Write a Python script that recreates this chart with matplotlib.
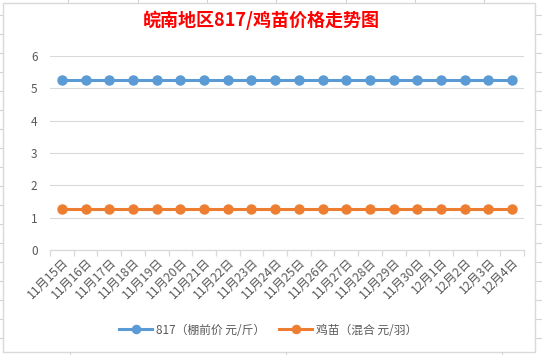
import matplotlib
matplotlib.use("Agg")
import matplotlib.pyplot as plt
from matplotlib.lines import Line2D

plt.rcParams['font.family'] = ['Noto Sans CJK SC', 'DejaVu Sans']

# data
dates = ['11月15日', '11月16日', '11月17日', '11月18日', '11月19日', '11月20日',
         '11月21日', '11月22日', '11月23日', '11月24日', '11月25日', '11月26日',
         '11月27日', '11月28日', '11月29日', '11月30日', '12月1日', '12月2日',
         '12月3日', '12月4日']
price_817 = [5.25] * 20
price_chick = [1.27] * 20
name_817 = '817（棚前价 元/斤）'
name_chick = '鸡苗（混合 元/羽）'
title = '皖南地区817/鸡苗价格走势图'

W, H = 542, 355
fig = plt.figure(figsize=(W / 100, H / 100), dpi=100)
fig.patch.set_facecolor('white')

# spreadsheet cell lines around the chart object
cell = '#d4d4d4'
for x in [68, 138, 207, 276, 346, 415, 484]:
    fig.add_artist(Line2D([x / W, x / W], [1, 1 - 2 / H], color=cell, lw=0.8))
for x in [70, 286, 502]:
    fig.add_artist(Line2D([x / W, x / W], [0, 3 / H], color=cell, lw=0.8))
for y in range(15, 355, 19):
    fig.add_artist(Line2D([535 / W, 1], [1 - y / H, 1 - y / H], color=cell, lw=0.8))
    fig.add_artist(Line2D([0, 2 / W], [1 - y / H, 1 - y / H], color=cell, lw=0.8))
# chart border
fig.add_artist(plt.Rectangle((2.5 / W, 3 / H), 532 / W, 349 / H, fill=False,
                             ec='#d9d9d9', lw=1.0, transform=fig.transFigure))

ax = fig.add_axes([50 / W, 1 - 250 / H, 474 / W, 194 / H])
x = list(range(len(dates)))
ax.plot(x, price_817, color='#5B9BD5', lw=2.2, marker='o', ms=6.5, label=name_817, zorder=3)
ax.plot(x, price_chick, color='#ED7D31', lw=2.2, marker='o', ms=6.5, label=name_chick, zorder=3)

ax.set_xlim(-0.5, len(dates) - 0.5)
ax.set_ylim(0, 6)
ax.set_yticks(range(0, 7))
ax.grid(axis='y', color='#d9d9d9', lw=0.8)
ax.set_axisbelow(True)
for s in ['top', 'right', 'left']:
    ax.spines[s].set_visible(False)
ax.spines['bottom'].set_color('#d9d9d9')
ax.spines['bottom'].set_linewidth(0.9)

ax.set_xticks([i - 0.5 for i in range(len(dates) + 1)], minor=True)
ax.set_xticks(x)
ax.set_xticklabels(dates, rotation=45, ha='right', va='top', rotation_mode='anchor',
                   fontsize=8.8, color='#595959')
ax.tick_params(axis='x', which='major', length=0, pad=4)
ax.tick_params(axis='x', which='minor', length=4, color='#d9d9d9', width=0.9)
ax.tick_params(axis='y', length=0, labelsize=8.5, labelcolor='#595959', pad=9)

fig.text(261 / W, 1 - 20 / H, title, color='#FF0000', fontsize=13, fontweight='bold',
         ha='center', va='center')

fig.legend(loc='center', bbox_to_anchor=(268 / W, 1 - 330 / H), ncol=2, frameon=False,
           fontsize=8.5, labelcolor='#595959', handlelength=2.8, columnspacing=1.2,
           handletextpad=0.3, markerscale=0.9)

fig.savefig('out.png', dpi=100, facecolor='white')
